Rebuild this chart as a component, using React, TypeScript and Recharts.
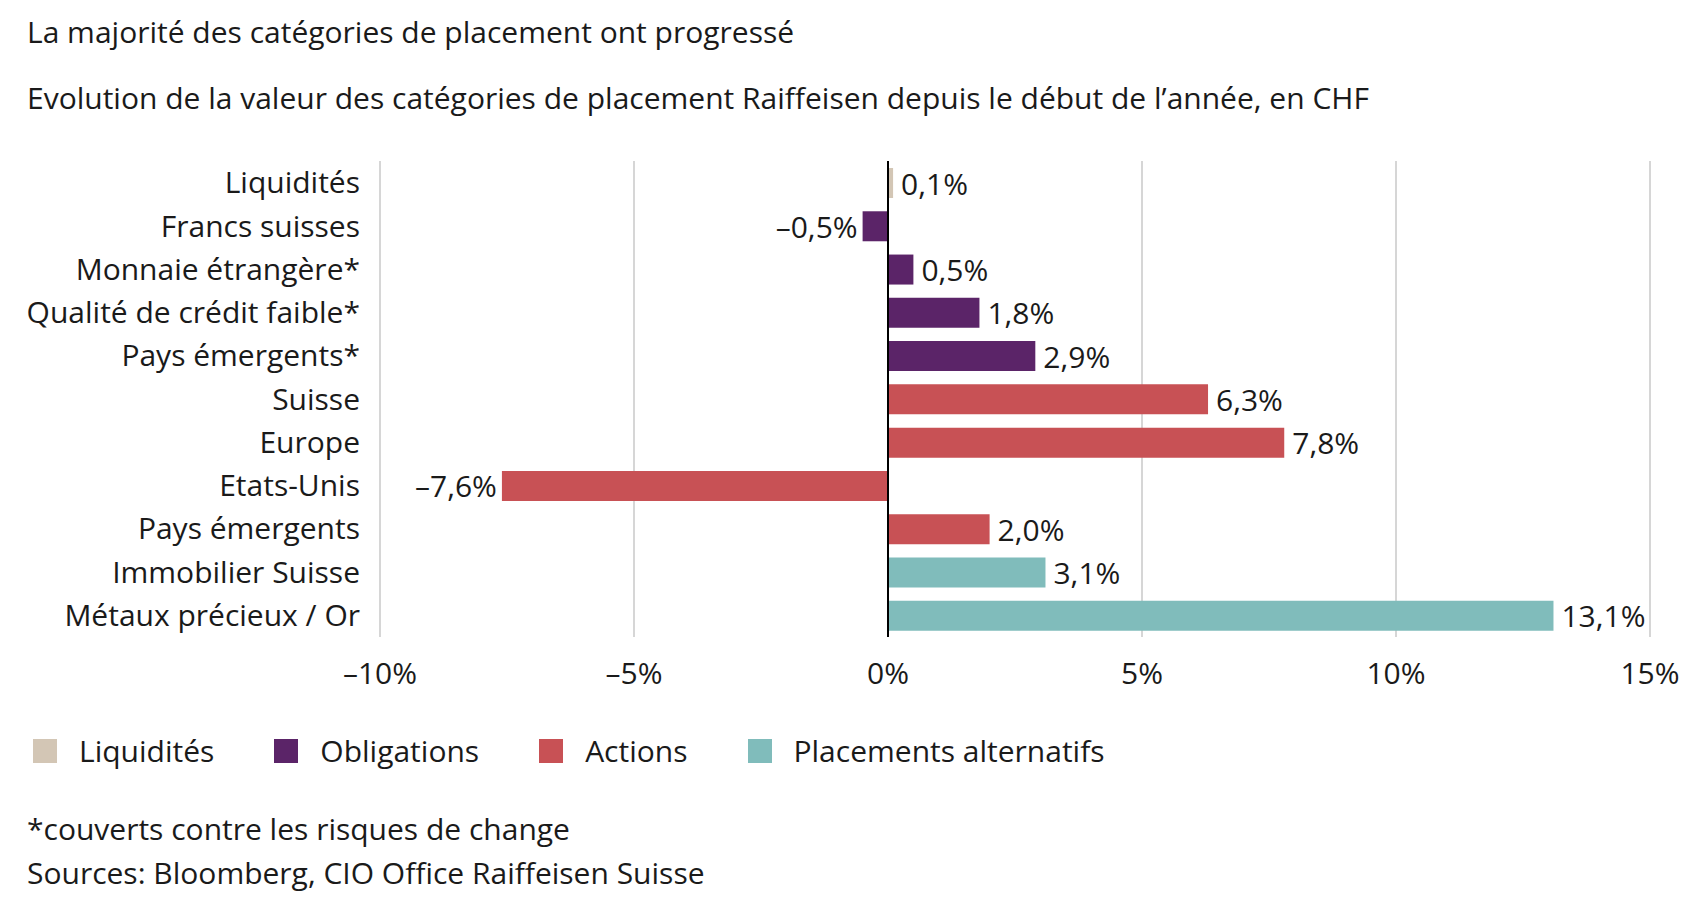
import React from 'react';
import {
  BarChart,
  Bar,
  XAxis,
  YAxis,
  CartesianGrid,
  ReferenceLine,
  Cell,
  LabelList,
} from 'recharts';

const categories = [
  'Liquidités',
  'Francs suisses',
  'Monnaie étrangère*',
  'Qualité de crédit faible*',
  'Pays émergents*',
  'Suisse',
  'Europe',
  'Etats-Unis',
  'Pays émergents',
  'Immobilier Suisse',
  'Métaux précieux / Or',
];
const values = [0.1, -0.5, 0.5, 1.8, 2.9, 6.3, 7.8, -7.6, 2.0, 3.1, 13.1];
const groups = [
  'Liquidités',
  'Obligations',
  'Obligations',
  'Obligations',
  'Obligations',
  'Actions',
  'Actions',
  'Actions',
  'Actions',
  'Placements alternatifs',
  'Placements alternatifs',
];
const legendNames = ['Liquidités', 'Obligations', 'Actions', 'Placements alternatifs'];
const xTicks = [-10, -5, 0, 5, 10, 15];

const groupColors: Record<string, string> = {
  'Liquidités': '#d3c6b5',
  'Obligations': '#5b2468',
  'Actions': '#c85155',
  'Placements alternatifs': '#80bcbb',
};

const FONT = '"Open Sans", "Noto Sans", sans-serif';
const FS = 30;
const TEXT = '#1a1a1a';

const data = categories.map((name, i) => ({ name, value: values[i], group: groups[i] }));

// french formatting: comma decimal, en dash minus
const fmtPct = (v: number, digits: number) =>
  (v < 0 ? '\u2013' : '') + Math.abs(v).toFixed(digits).replace('.', ',') + '%';

const ValueLabel = (props: any) => {
  const { x, y, width, height, value } = props;
  const left = Math.min(x, x + width);
  const right = Math.max(x, x + width);
  const neg = value < 0;
  return (
    <text
      x={neg ? left - 5 : right + 8}
      y={y + height / 2}
      textAnchor={neg ? 'end' : 'start'}
      dominantBaseline="central"
      fontFamily={FONT}
      fontSize={FS}
      fill={TEXT}
    >
      {fmtPct(value, 1)}
    </text>
  );
};

const textLine = (top: number): React.CSSProperties => ({
  position: 'absolute',
  left: 19,
  top,
  lineHeight: '34px',
  fontSize: FS,
  color: TEXT,
  whiteSpace: 'nowrap',
});

export default function App() {
  return (
    <div style={{ position: 'relative', width: 1679, height: 886, fontFamily: FONT, background: '#fff' }}>
      <div style={textLine(7)}>La majorité des catégories de placement ont progressé</div>
      <div style={textLine(73)}>
        Evolution de la valeur des catégories de placement Raiffeisen depuis le début de l’année, en CHF
      </div>

      <div style={{ position: 'absolute', left: 0, top: 0 }}>
        <BarChart
          width={1679}
          height={689}
          data={data}
          layout="vertical"
          margin={{ top: 153, right: 37, bottom: 0, left: 0 }}
          barSize={30}
        >
          <CartesianGrid horizontal={false} vertical stroke="#c8c8c8" strokeWidth={1.5} />
          <XAxis
            type="number"
            domain={[-10, 15]}
            ticks={xTicks}
            tickFormatter={(v: number) => fmtPct(v, 0)}
            axisLine={false}
            tickLine={false}
            tickSize={0}
            tickMargin={26}
            height={60}
            tick={{ fontFamily: FONT, fontSize: FS, fill: TEXT }}
          />
          <YAxis
            type="category"
            dataKey="name"
            width={372}
            axisLine={false}
            tickLine={false}
            tickSize={0}
            tickMargin={20}
            interval={0}
            tick={{ fontFamily: FONT, fontSize: FS, fill: TEXT }}
          />
          <ReferenceLine x={0} stroke="#000" strokeWidth={2} />
          <Bar dataKey="value" isAnimationActive={false}>
            {data.map((d) => (
              <Cell key={d.name} fill={groupColors[d.group]} />
            ))}
            <LabelList dataKey="value" content={ValueLabel} />
          </Bar>
        </BarChart>
      </div>

      <div
        style={{
          position: 'absolute',
          left: 25,
          top: 726,
          display: 'flex',
          alignItems: 'center',
          gap: 60,
          fontSize: FS,
          color: TEXT,
          lineHeight: '34px',
        }}
      >
        {legendNames.map((n) => (
          <div key={n} style={{ display: 'flex', alignItems: 'center' }}>
            <span style={{ width: 24, height: 24, background: groupColors[n], marginRight: 22, display: 'inline-block' }} />
            <span>{n}</span>
          </div>
        ))}
      </div>

      <div style={textLine(804)}>*couverts contre les risques de change</div>
      <div style={textLine(848)}>Sources: Bloomberg, CIO Office Raiffeisen Suisse</div>
    </div>
  );
}
